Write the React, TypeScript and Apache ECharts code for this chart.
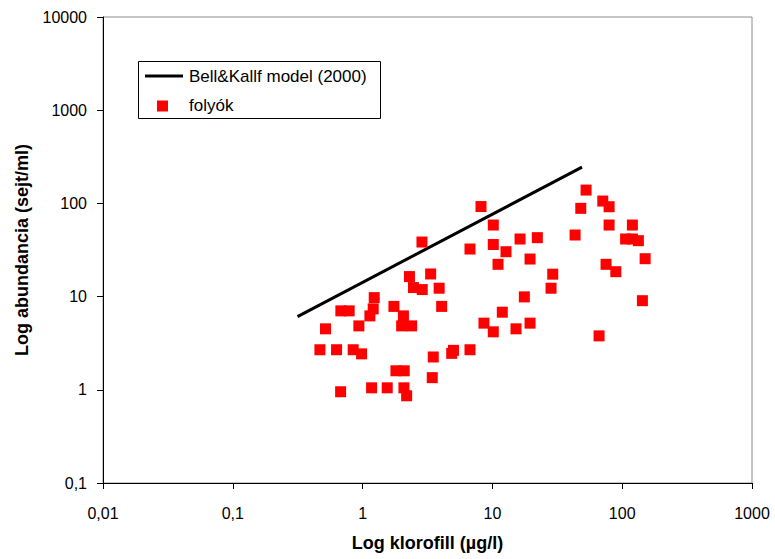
import React, { useEffect, useRef } from "react";
import * as echarts from "echarts";

// Bell & Kalff model line (log-log straight line endpoints)
const modelChl = [0.315, 49];
const modelAbund = [6.1, 245];

// River samples ("folyók")
const riverChl = [
  0.469, 0.518, 0.63, 0.677, 0.68, 0.788, 0.846, 0.936, 0.982, 1.138,
  1.207, 1.229, 1.173, 1.548, 1.743, 1.806, 2.093, 2.063, 1.999, 2.387,
  2.082, 2.184, 2.296, 2.465, 2.88, 2.866, 3.344, 3.889, 4.065, 3.502,
  3.441, 4.857, 5.013, 6.72, 6.72, 8.17, 8.61, 10.16, 10.16, 12.73,
  11.05, 10.16, 11.92, 15.2, 16.33, 22.19, 19.5, 19.5, 17.62, 29.16,
  28.3, 43.35, 47.96, 52.68, 70.87, 79.25, 79.25, 119.8, 106.2, 119.8,
  133.3, 150.2, 75.1, 89.3, 143.1, 66.35,
];
const riverAbund = [
  2.69, 4.51, 2.69, 0.953, 7.03, 7.03, 2.69, 4.85, 2.43, 6.21,
  7.38, 9.75, 1.05, 1.05, 7.85, 1.6, 1.6, 6.21, 4.85, 4.85,
  1.05, 0.863, 16.4, 12.5, 11.9, 38.5, 17.5, 12.3, 7.85, 2.25,
  1.35, 2.46, 2.65, 2.69, 32.4, 92.5, 5.19, 58.6, 36.2, 30.3,
  22.2, 4.19, 6.8, 4.51, 41.5, 42.9, 25.3, 5.19, 9.93, 17.4,
  12.3, 45.8, 88.5, 139, 106, 92.1, 58.6, 58.6, 41.5, 41.5,
  39.8, 25.5, 22.2, 18.5, 9.04, 3.79,
];

const xRange = [0.01, 1000];
const yRange = [0.1, 10000];

const seriesNames = ["Bell&Kallf model (2000)", "folyók"];
const xTitle = "Log klorofill (µg/l)";
const yTitle = "Log abundancia (sejt/ml)";

const FONT = "'Liberation Sans', Arial, Helvetica, sans-serif";

const fmt = (v: number) =>
  String(Number(Number(v).toPrecision(6))).replace(".", ",");

export default function App() {
  const ref = useRef<HTMLDivElement>(null);

  useEffect(() => {
    document.body.style.margin = "0";
    if (!ref.current) return;
    const chart = echarts.init(ref.current, undefined, { renderer: "svg" });

    const lineData = modelChl.map((x, i) => [x, modelAbund[i]]);
    const scatterData = riverChl.map((x, i) => [x, riverAbund[i]]);

    chart.setOption({
      animation: false,
      backgroundColor: "#ffffff",
      textStyle: { fontFamily: FONT },
      grid: {
        left: 103,
        top: 17,
        right: 23,
        bottom: 76,
        show: true,
        borderColor: "#8c8c8c",
        borderWidth: 1,
        backgroundColor: "transparent",
      },
      xAxis: {
        type: "log",
        logBase: 10,
        min: xRange[0],
        max: xRange[1],
        name: xTitle,
        nameLocation: "middle",
        nameGap: 51,
        nameTextStyle: {
          fontFamily: FONT,
          fontSize: 18,
          fontWeight: "bold",
          color: "#000",
        },
        axisLine: { show: true, lineStyle: { color: "#000", width: 1 } },
        axisTick: { show: true, inside: false, length: 6, lineStyle: { color: "#000" } },
        minorTick: { show: false },
        splitLine: { show: false },
        axisLabel: {
          fontFamily: FONT,
          fontSize: 16,
          color: "#000",
          margin: 22,
          formatter: fmt,
        },
      },
      yAxis: {
        type: "log",
        logBase: 10,
        min: yRange[0],
        max: yRange[1],
        name: yTitle,
        nameLocation: "middle",
        nameGap: 72,
        nameRotate: 90,
        nameTextStyle: {
          fontFamily: FONT,
          fontSize: 18,
          fontWeight: "bold",
          color: "#000",
        },
        axisLine: { show: true, lineStyle: { color: "#000", width: 1 } },
        axisTick: { show: true, inside: false, length: 6, lineStyle: { color: "#000" } },
        minorTick: { show: false },
        splitLine: { show: false },
        axisLabel: {
          fontFamily: FONT,
          fontSize: 16,
          color: "#000",
          margin: 16,
          formatter: fmt,
        },
      },
      series: [
        {
          name: seriesNames[0],
          type: "line",
          data: lineData,
          symbol: "none",
          lineStyle: { color: "#000", width: 3 },
          z: 3,
        },
        {
          name: seriesNames[1],
          type: "scatter",
          data: scatterData,
          symbol: "rect",
          symbolSize: 11,
          itemStyle: { color: "#ff0000", opacity: 1 },
          z: 4,
        },
      ],
      graphic: [
        {
          type: "rect",
          shape: { x: 138.5, y: 61.5, width: 242, height: 57 },
          style: { fill: "#ffffff", stroke: "#000", lineWidth: 1 },
          z: 10,
        },
        {
          type: "line",
          shape: { x1: 145, y1: 76, x2: 183, y2: 76 },
          style: { stroke: "#000", lineWidth: 3 },
          z: 11,
        },
        {
          type: "text",
          x: 189,
          y: 76,
          style: {
            text: seriesNames[0],
            fontFamily: FONT,
            fontSize: 17,
            fill: "#000",
            verticalAlign: "middle",
            align: "left",
          },
          z: 11,
        },
        {
          type: "rect",
          shape: { x: 157, y: 100.5, width: 11, height: 11 },
          style: { fill: "#ff0000" },
          z: 11,
        },
        {
          type: "text",
          x: 189,
          y: 105,
          style: {
            text: seriesNames[1],
            fontFamily: FONT,
            fontSize: 17,
            fill: "#000",
            verticalAlign: "middle",
            align: "left",
          },
          z: 11,
        },
      ],
    });

    return () => {
      chart.dispose();
    };
  }, []);

  return <div ref={ref} style={{ width: 775, height: 559 }} />;
}
